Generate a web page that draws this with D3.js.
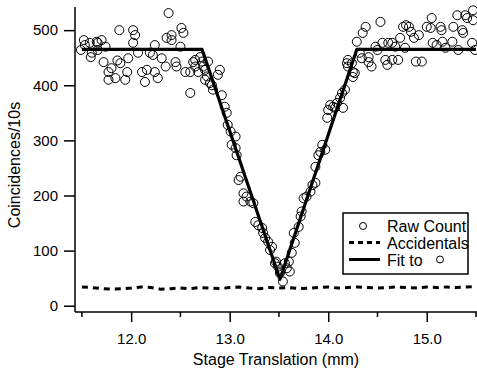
<!DOCTYPE html>
<html>
<head>
<meta charset="utf-8">
<script src="https://cdn.jsdelivr.net/npm/d3@7"></script>
<style>
  body { margin: 0; background: #fff; }
  text { font-family: "Liberation Sans", Arial, sans-serif; fill: #000; }
</style>
</head>
<body>
<div id="chart"></div>
<script>
const width = 477;
const height = 375;

// raw coincidence counts
const rawX = [11.49, 11.52, 11.53, 11.58, 11.59, 11.60, 11.65, 11.66, 11.66, 11.70,
  11.72, 11.74, 11.77, 11.77, 11.80, 11.84, 11.86, 11.88, 11.89, 11.94,
  11.96, 11.97, 12.02, 12.02, 12.04, 12.07, 12.11, 12.14, 12.16, 12.19,
  12.22, 12.24, 12.24, 12.27, 12.31, 12.35, 12.36, 12.38, 12.41, 12.41,
  12.45, 12.46, 12.50, 12.51, 12.53, 12.55, 12.60, 12.60, 12.63, 12.65,
  12.65, 12.68, 12.70, 12.72, 12.73, 12.75, 12.75, 12.77, 12.78, 12.80,
  12.82, 12.83, 12.88, 12.90, 12.92, 12.95, 12.97, 12.98, 13.01, 13.02,
  13.06, 13.06, 13.07, 13.09, 13.11, 13.14, 13.14, 13.17, 13.21, 13.24,
  13.26, 13.29, 13.33, 13.34, 13.36, 13.39, 13.41, 13.43, 13.46, 13.47,
  13.49, 13.51, 13.51, 13.54, 13.56, 13.58, 13.60, 13.61, 13.63, 13.65,
  13.66, 13.70, 13.72, 13.73, 13.75, 13.78, 13.82, 13.84, 13.87, 13.87,
  13.90, 13.92, 13.94, 13.97, 13.99, 14.00, 14.02, 14.05, 14.07, 14.09,
  14.12, 14.14, 14.15, 14.17, 14.19, 14.20, 14.20, 14.24, 14.25, 14.25,
  14.27, 14.29, 14.32, 14.34, 14.35, 14.38, 14.41, 14.41, 14.44, 14.48,
  14.50, 14.53, 14.55, 14.58, 14.60, 14.61, 14.65, 14.65, 14.68, 14.71,
  14.73, 14.76, 14.78, 14.79, 14.82, 14.84, 14.87, 14.89, 14.92, 14.95,
  15.00, 15.04, 15.05, 15.06, 15.10, 15.14, 15.15, 15.16, 15.19, 15.26,
  15.27, 15.31, 15.32, 15.36, 15.37, 15.39, 15.41, 15.46, 15.47, 15.47,
  15.49];
const rawY = [464, 482, 473, 477, 451, 459, 479, 477, 464, 482,
  442, 470, 424, 410, 431, 413, 445, 500, 440, 410,
  424, 449, 500, 477, 491, 459, 424, 406, 428, 459,
  455, 473, 424, 413, 449, 434, 486, 531, 491, 482,
  442, 434, 470, 504, 495, 424, 424, 386, 442, 434,
  446, 424, 451, 443, 434, 410, 428, 416, 443, 404,
  400, 392, 419, 428, 382, 361, 350, 328, 316, 292,
  307, 286, 273, 228, 234, 204, 189, 198, 189, 186,
  152, 146, 141, 132, 123, 116, 101, 107, 77, 80,
  71, 62, 59, 44, 77, 68, 80, 62, 96, 132,
  114, 143, 162, 171, 195, 198, 207, 219, 223, 252,
  273, 279, 292, 283, 341, 355, 364, 361, 359, 368,
  377, 386, 359, 392, 440, 434, 446, 440, 424, 415,
  422, 479, 459, 449, 495, 506, 451, 442, 434, 470,
  464, 515, 477, 446, 437, 477, 477, 446, 470, 446,
  486, 506, 468, 509, 506, 497, 486, 443, 491, 443,
  506, 504, 522, 477, 473, 506, 500, 479, 468, 479,
  506, 527, 464, 500, 495, 527, 522, 477, 536, 518,
  464];

// accidental coincidences
const accX = [11.5, 11.6, 11.7, 11.8, 11.9, 12.0, 12.1, 12.2, 12.3, 12.4,
  12.5, 12.6, 12.7, 12.8, 12.9, 13.0, 13.1, 13.2, 13.3, 13.4,
  13.5, 13.6, 13.7, 13.8, 13.9, 14.0, 14.1, 14.2, 14.3, 14.4,
  14.5, 14.6, 14.7, 14.8, 14.9, 15.0, 15.1, 15.2, 15.3, 15.4, 15.5];
const accY = [34, 33, 31, 30, 31, 32, 34, 33, 30, 31,
  32, 31, 33, 32, 31, 33, 34, 32, 31, 33,
  32, 33, 31, 32, 33, 34, 32, 33, 34, 33,
  32, 33, 34, 33, 32, 34, 33, 34, 33, 34, 35];

// piecewise-linear fit
const fitX = [11.5, 12.72, 13.51, 14.29, 15.5];
const fitY = [465, 465, 48, 465, 465];

const xMajor = [12, 13, 14, 15];
const xMinor = [11.5, 12.5, 13.5, 14.5, 15.5];
const yTicks = [0, 100, 200, 300, 400, 500];

const x = d3.scaleLinear().domain([11.43, 15.51]).range([75, 477]);
const y = d3.scaleLinear().domain([-11.4, 542]).range([312, 7]);

const svg = d3.select("#chart").append("svg")
  .attr("width", width)
  .attr("height", height);

// axes
svg.append("g")
  .attr("transform", `translate(${x.range()[0]},0)`)
  .call(d3.axisLeft(y).tickValues(yTicks).tickSize(11).tickPadding(6).tickFormat(d3.format("d")))
  .call(g => g.select(".domain").attr("d", `M0,${y.range()[0]}V${y.range()[1]}`))
  .call(g => g.selectAll("path,line").attr("stroke", "#000").attr("stroke-width", 1.5))
  .call(g => g.selectAll("text").attr("font-size", 15).attr("font-family", "Liberation Sans, Arial, sans-serif"));

const xg = svg.append("g")
  .attr("transform", `translate(0,${y.range()[0]})`);
xg.call(d3.axisBottom(x).tickValues(xMajor).tickSize(10).tickPadding(11).tickFormat(d3.format(".1f")))
  .call(g => g.select(".domain").attr("d", `M${x.range()[0]},0H${x.range()[1]}`))
  .call(g => g.selectAll("path,line").attr("stroke", "#000").attr("stroke-width", 1.5))
  .call(g => g.selectAll("text").attr("font-size", 15).attr("font-family", "Liberation Sans, Arial, sans-serif"));
xg.selectAll(".minor")
  .data(xMinor)
  .join("line")
  .attr("class", "minor")
  .attr("x1", d => x(d)).attr("x2", d => x(d))
  .attr("y1", 0).attr("y2", 5)
  .attr("stroke", "#000").attr("stroke-width", 1.5);

// titles
svg.append("text")
  .attr("x", 276).attr("y", 365)
  .attr("text-anchor", "middle")
  .attr("font-size", 16)
  .text("Stage Translation (mm)");
svg.append("text")
  .attr("transform", "translate(20,165) rotate(-90)")
  .attr("text-anchor", "middle")
  .attr("font-size", 16)
  .text("Coincidences/10s");

// accidentals
const line = d3.line().x(d => x(d[0])).y(d => y(d[1]));
svg.append("path")
  .datum(d3.zip(accX, accY))
  .attr("d", line)
  .attr("fill", "none")
  .attr("stroke", "#000")
  .attr("stroke-width", 3)
  .attr("stroke-dasharray", "6,5");

// raw counts
svg.append("g")
  .selectAll("circle")
  .data(d3.zip(rawX, rawY))
  .join("circle")
  .attr("cx", d => x(d[0]))
  .attr("cy", d => y(d[1]))
  .attr("r", 4.5)
  .attr("fill", "none")
  .attr("stroke", "#000")
  .attr("stroke-width", 1);

// fit
svg.append("path")
  .datum(d3.zip(fitX, fitY))
  .attr("d", line)
  .attr("fill", "none")
  .attr("stroke", "#000")
  .attr("stroke-width", 3.2)
  .attr("stroke-linejoin", "round");

// legend
const lg = svg.append("g").attr("transform", "translate(343,213)");
lg.append("rect")
  .attr("width", 125).attr("height", 61)
  .attr("fill", "#fff").attr("stroke", "#000").attr("stroke-width", 1.5);
lg.append("circle").attr("cx", 20).attr("cy", 13).attr("r", 3.5)
  .attr("fill", "none").attr("stroke", "#000");
lg.append("text").attr("x", 44).attr("y", 18.5).attr("font-size", 16).text("Raw Count");
lg.append("line").attr("x1", 6).attr("x2", 37).attr("y1", 29.5).attr("y2", 29.5)
  .attr("stroke", "#000").attr("stroke-width", 3).attr("stroke-dasharray", "5,4");
lg.append("text").attr("x", 44).attr("y", 35.5).attr("font-size", 16).text("Accidentals");
lg.append("line").attr("x1", 6).attr("x2", 37).attr("y1", 46.5).attr("y2", 46.5)
  .attr("stroke", "#000").attr("stroke-width", 3);
lg.append("text").attr("x", 44).attr("y", 52.5).attr("font-size", 16).text("Fit to");
lg.append("circle").attr("cx", 97).attr("cy", 46.5).attr("r", 3.5)
  .attr("fill", "none").attr("stroke", "#000");
</script>
</body>
</html>
